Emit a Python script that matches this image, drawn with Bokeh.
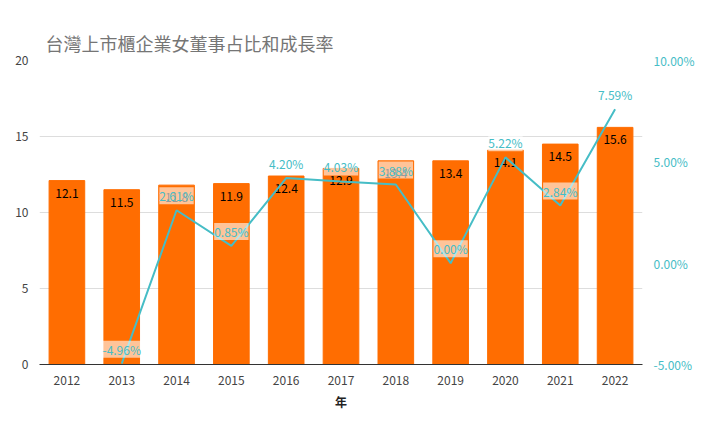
from bokeh.plotting import figure
from bokeh.models import Range1d, LinearAxis, FixedTicker, Legend, LegendItem, ColumnDataSource, CustomJSTickFormatter
from bokeh.embed import file_html
from bokeh.resources import INLINE

years = ["2012","2013","2014","2015","2016","2017","2018","2019","2020","2021","2022"]
ratio = [12.1,11.5,11.8,11.9,12.4,12.9,13.4,13.4,14.1,14.5,15.6]
growth = [None,-4.96,2.61,0.85,4.20,4.03,3.88,0.00,5.22,2.84,7.59]

FONT = "Noto Sans CJK TC"
xs = list(range(len(years)))
p = figure(width=707, height=431, output_backend="svg", toolbar_location=None,
           x_range=Range1d(-0.5, len(years)-0.5), y_range=Range1d(0, 20),
           min_border_left=39, min_border_right=65, min_border_top=60, min_border_bottom=67)
p.title.text = "台灣上市櫃企業女董事占比和成長率"
p.title.text_font = FONT
p.title.text_font_size = "18px"
p.title.text_color = "#757575"
p.title.text_font_style = "normal"
p.title.offset = 6
p.outline_line_color = None
p.extra_y_ranges = {"g": Range1d(-5, 10)}

src = ColumnDataSource(dict(x=xs, r=ratio, rl=[f"{v:.1f}" for v in ratio]))
bars = p.vbar(x="x", top="r", width=0.65, color="#ff6d01", source=src)
p.text(x="x", y="r", text="rl", source=src, text_align="center", text_baseline="top",
       y_offset=8, text_font_size="12px", text_color="#000000", text_font={"value": FONT})

gx = [x for x, g in zip(xs, growth) if g is not None]
gy = [g for g in growth if g is not None]
gsrc = ColumnDataSource(dict(x=gx, y=gy, l=[f"{v:.2f}%" for v in gy]))
line = p.line(x="x", y="y", y_range_name="g", color="#46bdc6", line_width=2, source=gsrc)
p.text(x="x", y="y", text="l", y_range_name="g", source=gsrc, text_align="center",
       text_baseline="bottom", y_offset=-6, text_font_size="12px", text_color="#46bdc6",
       text_font={"value": FONT}, background_fill_color="white", background_fill_alpha=0.6)

p.yaxis.ticker = FixedTicker(ticks=[0,5,10,15,20])
p.xaxis.ticker = FixedTicker(ticks=xs)
p.xaxis.major_label_overrides = {i: y for i, y in enumerate(years)}
p.xaxis.axis_label = "年"
for ax in [p.xaxis[0], p.yaxis[0]]:
    ax.axis_line_color = None
    ax.major_tick_line_color = None
    ax.minor_tick_line_color = None
    ax.major_label_text_color = "#444444"
    ax.major_label_text_font_size = "12px"
    ax.major_label_text_font = FONT
p.xaxis.axis_line_color = "#333333"
p.xaxis.axis_label_text_font = FONT
p.xaxis.axis_label_text_font_size = "12px"
p.xaxis.axis_label_text_font_style = "bold"
p.xaxis.axis_label_text_color = "#222222"
p.xgrid.grid_line_color = None
p.ygrid.grid_line_color = "#dddddd"

ra = LinearAxis(y_range_name="g", ticker=FixedTicker(ticks=[-5,0,5,10]),
                formatter=CustomJSTickFormatter(code="return tick.toFixed(2) + '%';"))
ra.axis_line_color = None
ra.major_tick_line_color = None
ra.minor_tick_line_color = None
ra.major_label_text_color = "#46bdc6"
ra.major_label_text_font_size = "12px"
ra.major_label_text_font = FONT
p.add_layout(ra, "right")

leg = Legend(items=[LegendItem(label="女董事占比", renderers=[bars]),
                    LegendItem(label="成長率", renderers=[line])],
             orientation="horizontal", location=(225, 305), border_line_color=None,
             background_fill_alpha=0,
             label_text_font=FONT, label_text_font_size="12px", label_text_color="#222222",
             glyph_width=14, glyph_height=14, spacing=20, margin=0, padding=2)
p.add_layout(leg)

open("out.html", "w").write(file_html(p, INLINE))
